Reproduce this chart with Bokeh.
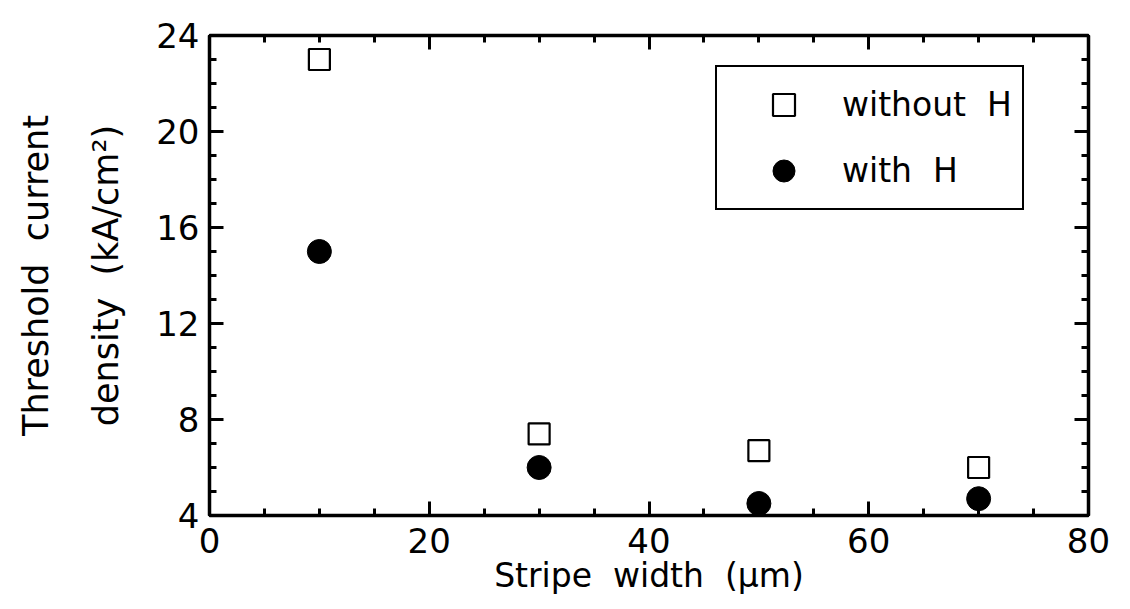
from bokeh.plotting import figure
from bokeh.models import (LinearAxis, Range1d, Legend, LegendItem,
                          SingleIntervalTicker, FixedTicker,
                          CustomJSTickFormatter)
from bokeh.embed import file_html
from bokeh.resources import INLINE

# ---- data ----
stripe_width = [10, 30, 50, 70]          # µm
jth_without_h = [23.0, 7.4, 6.7, 6.0]    # kA/cm^2
jth_with_h = [15.0, 6.0, 4.5, 4.7]       # kA/cm^2
series_names = ["without\u00a0\u00a0H", "with\u00a0\u00a0H"]
x_title = "Stripe\u00a0\u00a0width\u00a0\u00a0(\u00b5m)"
y_title_1 = "Threshold\u00a0\u00a0current"
y_title_2 = "density\u00a0\u00a0(kA/cm\u00b2)"

FONT = "DejaVu Sans"

p = figure(width=1130, height=609,
           x_range=Range1d(0, 80), y_range=Range1d(4, 24),
           output_backend="svg", toolbar_location=None,
           min_border_left=209, min_border_right=42,
           min_border_top=35, min_border_bottom=94,
           x_axis_location=None, y_axis_location=None)
p.xgrid.visible = False
p.ygrid.visible = False
p.outline_line_color = "black"
p.outline_line_width = 3
p.outline_line_alpha = 1.0
p.background_fill_color = "white"
p.border_fill_color = "white"


def style_axis(ax, show_labels, title_size="32px"):
    ax.axis_line_width = 3.5
    ax.axis_line_color = "black"
    ax.major_tick_in = 14
    ax.major_tick_out = 0
    ax.minor_tick_in = 7
    ax.minor_tick_out = 0
    ax.major_tick_line_width = 3
    ax.minor_tick_line_width = 3
    ax.major_tick_line_color = "black"
    ax.minor_tick_line_color = "black"
    ax.major_label_text_font = FONT
    ax.major_label_text_color = "black"
    ax.major_label_text_font_size = "34px"
    ax.axis_label_text_font = FONT
    ax.axis_label_text_font_size = title_size
    ax.axis_label_text_font_style = "normal"
    ax.axis_label_text_color = "black"
    if not show_labels:
        ax.formatter = CustomJSTickFormatter(code="return ''")
        ax.major_label_standoff = 0


xb = LinearAxis(ticker=SingleIntervalTicker(interval=20, num_minor_ticks=4))
style_axis(xb, True, "33px")
xb.major_label_standoff = 12
xb.axis_label = x_title
xb.axis_label_standoff = 0
p.add_layout(xb, "below")

xt = LinearAxis(ticker=SingleIntervalTicker(interval=20, num_minor_ticks=4))
style_axis(xt, False)
p.add_layout(xt, "above")

# inner left axis: ticks, tick labels and the second title line
yl = LinearAxis(ticker=SingleIntervalTicker(interval=4, num_minor_ticks=4))
style_axis(yl, True, "35px")
yl.major_label_standoff = 10
yl.axis_label = y_title_2
yl.axis_label_standoff = 27
p.add_layout(yl, "left")

# outer left axis: only carries the first title line
yl2 = LinearAxis(ticker=FixedTicker(ticks=[]))
style_axis(yl2, False, "35px")
yl2.axis_line_alpha = 0
yl2.major_tick_in = 0
yl2.minor_tick_in = 0
yl2.axis_label = y_title_1
yl2.axis_label_standoff = 28
p.add_layout(yl2, "left")

yr = LinearAxis(ticker=SingleIntervalTicker(interval=4, num_minor_ticks=4))
style_axis(yr, False)
p.add_layout(yr, "right")

r_open = p.scatter(stripe_width, jth_without_h, marker="square", size=21,
                   fill_color="white", line_color="black", line_width=2.2)
r_fill = p.scatter(stripe_width, jth_with_h, marker="circle", size=24,
                   fill_color="black", line_color="black", line_width=1)

legend = Legend(items=[LegendItem(label=series_names[0], renderers=[r_open]),
                       LegendItem(label=series_names[1], renderers=[r_fill])],
                location=(506, 305), orientation="vertical",
                glyph_width=113, glyph_height=55, padding=10, spacing=11,
                label_standoff=2, label_text_font=FONT,
                label_text_font_size="33px", label_text_color="black",
                border_line_color="black", border_line_width=2.5,
                border_line_alpha=1.0,
                background_fill_color="white", background_fill_alpha=1.0,
                margin=0)
p.add_layout(legend, "center")

open("out.html", "w").write(file_html(p, INLINE))
